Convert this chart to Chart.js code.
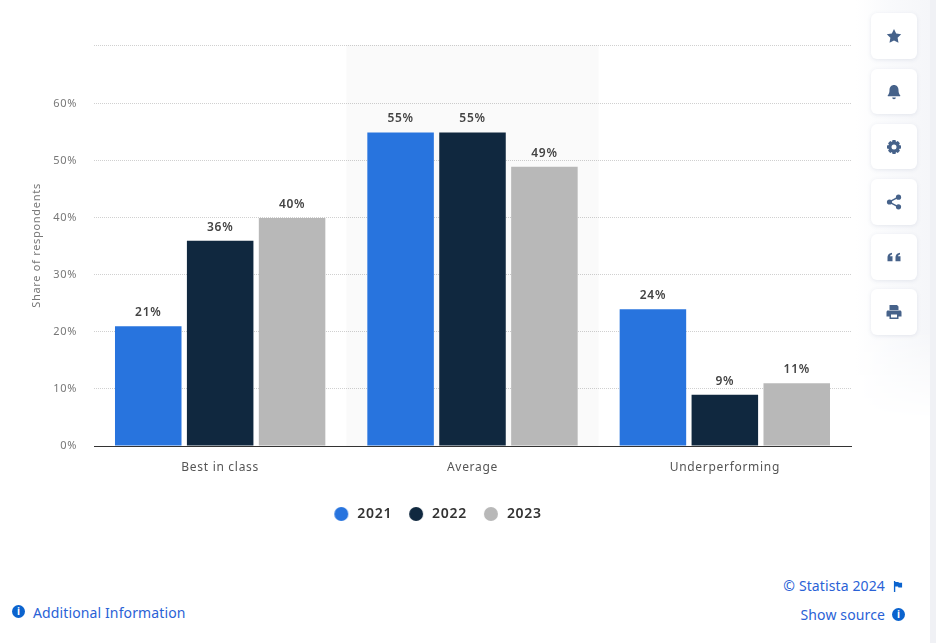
<!DOCTYPE html>
<html><head><meta charset="utf-8">
<script src="https://cdn.jsdelivr.net/npm/chart.js@4"></script>
<style>
html,body{margin:0;padding:0;background:#fff;width:936px;height:643px;overflow:hidden;font-family:"Noto Sans",sans-serif}
#wrap{position:absolute;left:0;top:0;width:936px;height:643px}
#side{position:absolute;left:856px;top:0;width:74px;height:643px;background:linear-gradient(90deg,#fff 0%,#f9fafc 45%,#f5f6f9 100%);-webkit-mask-image:linear-gradient(#000 330px,transparent 420px);mask-image:linear-gradient(#000 330px,transparent 420px)}
#edge{position:absolute;left:930px;top:0;width:6px;height:643px;background:#f0f1f5}
canvas{position:absolute;left:0;top:0}
.btn{position:absolute;left:871px;width:46px;background:#fff;border-radius:6px;box-shadow:0 1px 4px rgba(70,90,130,.12);display:flex;align-items:center;justify-content:center}
.btn svg{width:16px;height:16px;fill:#46628a}
.t{position:absolute;color:#2a62d6;font-size:14px;line-height:18px;white-space:nowrap;letter-spacing:.12px}
.i{position:absolute;width:13px;height:13px;border-radius:50%;background:#0b63ce;color:#fff;font:bold 10px/13px "Noto Sans";text-align:center}
</style></head><body>
<div id="wrap">
<div id="side"></div><div id="edge"></div>
<canvas id="c" width="852" height="560"></canvas>
<div class="btn" style="top:13px;height:46px"><svg viewBox="0 0 16 16"><path d="M8 1l2.200 4.600 5 .7-3.600 3.500.9 5L8 12.400 3.500 14.800l.9-5L.8 6.300l5-.7z"/></svg></div>
<div class="btn" style="top:69px;height:45px"><svg viewBox="0 0 16 16"><path d="M8 1c2.800 0 4.500 2.200 4.500 5 0 3 .8 4.200 1.700 5.200.3.400 0 1-.5 1H2.300c-.5 0-.8-.6-.5-1C2.700 10.200 3.500 9 3.500 6c0-2.800 1.700-5 4.500-5zM6.200 13.500h3.600c0 1-.8 1.700-1.800 1.700s-1.800-.7-1.800-1.700z"/></svg></div>
<div class="btn" style="top:124px;height:45px"><svg viewBox="0 0 16 16"><path fill-rule="evenodd" d="M6.500 1h3l.5 2 1.800-.9 2.100 2.100L13 6l2 .5v3l-2 .5.900 1.800-2.100 2.100L10 13l-.5 2h-3L6 13l-1.800.9-2.100-2.100L3 10l-2-.5v-3L3 6l-.9-1.800 2.100-2.100L6 3zM8 5.500a2.500 2.500 0 100 5 2.500 2.500 0 000-5z"/></svg></div>
<div class="btn" style="top:179px;height:46px"><svg viewBox="0 0 16 16"><circle cx="12.500" cy="3.200" r="2.600"/><circle cx="3.500" cy="8" r="2.600"/><circle cx="12.500" cy="12.800" r="2.600"/><path d="M3 7.300l9-4.800.7 1.300-9 4.800zM3.700 7.400l9 4.800-.7 1.300-9-4.800z"/></svg></div>
<div class="btn" style="top:234px;height:46px"><svg viewBox="0 0 16 16"><path d="M1.500 8.500C1.500 6 3 4.300 6 3.800v1.700c-1.300.3-1.900 1-2 1.800h2.500v4.900h-5zM9.500 8.500c0-2.500 1.500-4.200 4.500-4.700v1.700c-1.300.3-1.900 1-2 1.800h2.500v4.900h-5z"/></svg></div>
<div class="btn" style="top:289px;height:46px"><svg viewBox="0 0 16 16"><path fill-rule="evenodd" d="M3.500 1h7.500l1.500 1.500V6h-9zM2 6.500h12c.8 0 1.500.7 1.500 1.500v4.500h-3V15h-9v-2.500h-3V8c0-.8.7-1.500 1.500-1.500zM5 10.500v3h6v-3z"/></svg></div>
<div class="i" style="left:12px;top:605px">i</div>
<div class="t" style="left:33px;top:604px">Additional Information</div>
<div class="t" style="right:51px;top:577px">© Statista 2024</div>
<svg style="position:absolute;left:893px;top:581px;width:10px;height:11px" viewBox="0 0 11 12"><path fill="#0b63ce" d="M1 0h1.500v12H1zM2.500 1H6l.5 1H10v5H6l-.5-1h-3z"/></svg>
<div class="t" style="right:51px;top:606px">Show source</div>
<div class="i" style="left:892px;top:608px">i</div>
</div>
<script>
const categories = ["Best in class", "Average", "Underperforming"];
const seriesNames = ["2021", "2022", "2023"];
const values2021 = [21, 55, 24];
const values2022 = [36, 55, 9];
const values2023 = [40, 49, 11];
const seriesColors = ["#2874de", "#10283f", "#b8b8b8"];
const yTickValues = [0, 10, 20, 30, 40, 50, 60];
const yAxisMax = 70.35;
const highlightedCategory = 1;

function legendDot(color) {
  const dot = document.createElement("canvas");
  dot.width = 18; dot.height = 14;
  const g = dot.getContext("2d");
  g.fillStyle = color;
  g.beginPath();
  g.arc(9, 7, 7, 0, Math.PI * 2);
  g.fill();
  return dot;
}

const spacingPlugin = {
  id: "spacing",
  beforeDraw(chart) { chart.ctx.letterSpacing = "0.7px"; },
  beforeUpdate(chart) { chart.ctx.letterSpacing = "0.7px"; }
};
const bandPlugin = {
  id: "band",
  beforeDatasetsDraw(chart) {
    const { ctx, chartArea, scales } = chart;
    const half = (scales.x.getPixelForValue(1) - scales.x.getPixelForValue(0)) / 2;
    const cx = scales.x.getPixelForValue(highlightedCategory);
    ctx.save();
    ctx.fillStyle = "rgba(0,0,0,0.02)";
    ctx.fillRect(cx - half, chartArea.top, half * 2, chartArea.bottom - chartArea.top);
    ctx.restore();
  }
};
const labelPlugin = {
  id: "valueLabels",
  afterDatasetsDraw(chart) {
    const { ctx } = chart;
    ctx.save();
    ctx.font = "600 12px 'Noto Sans'";
    ctx.fillStyle = "#444";
    ctx.textAlign = "center";
    ctx.textBaseline = "alphabetic";
    chart.data.datasets.forEach((ds, i) => {
      chart.getDatasetMeta(i).data.forEach((bar, j) => {
        ctx.fillText(ds.data[j] + "%", bar.x, bar.y - 10);
      });
    });
    ctx.restore();
  }
};

new Chart(document.getElementById("c"), {
  type: "bar",
  data: {
    labels: categories,
    datasets: [values2021, values2022, values2023].map((d, i) => ({
      label: seriesNames[i],
      data: d,
      backgroundColor: seriesColors[i],
      categoryPercentage: 0.855,
      barPercentage: 0.925
    }))
  },
  plugins: [spacingPlugin, bandPlugin, labelPlugin],
  options: {
    responsive: false,
    animation: false,
    layout: { padding: { left: 23, top: 45, right: 1, bottom: 29 } },
    plugins: {
      tooltip: { enabled: false },
      legend: {
        position: "bottom",
        labels: {
          usePointStyle: true,
          pointStyleWidth: 18,
          boxHeight: 14,
          padding: 15,
          color: "#333",
          font: { family: "'Noto Sans'", size: 14, weight: "600" },
          generateLabels(chart) {
            return Chart.defaults.plugins.legend.labels.generateLabels(chart).map((item, i) => ({
              ...item,
              pointStyle: legendDot(seriesColors[i])
            }));
          }
        }
      }
    },
    scales: {
      x: {
        grid: { display: false, drawTicks: false },
        border: { color: "#333", width: 1 },
        ticks: { color: "#555", padding: 14, font: { family: "'Noto Sans'", size: 12 } },
        afterFit(s) { s.height = 46; }
      },
      y: {
        min: 0, max: yAxisMax,
        grid: { color: "#d0d0d0", drawTicks: false },
        border: { display: false, dash: [1, 1] },
        ticks: {
          padding: 17, color: "#777",
          font: { family: "'Noto Sans'", size: 11 },
          callback: v => yTickValues.includes(v) ? v + "%" : ""
        },
        afterBuildTicks(s) { s.ticks = [...yTickValues, yAxisMax].map(value => ({ value })); },
        title: { display: true, text: "Share of respondents", color: "#777", padding: { top: 7, bottom: 0 },
                 font: { family: "'Noto Sans'", size: 11 } },
        afterFit(s) { s.width = 71; }
      }
    }
  }
});
</script>
</body></html>
